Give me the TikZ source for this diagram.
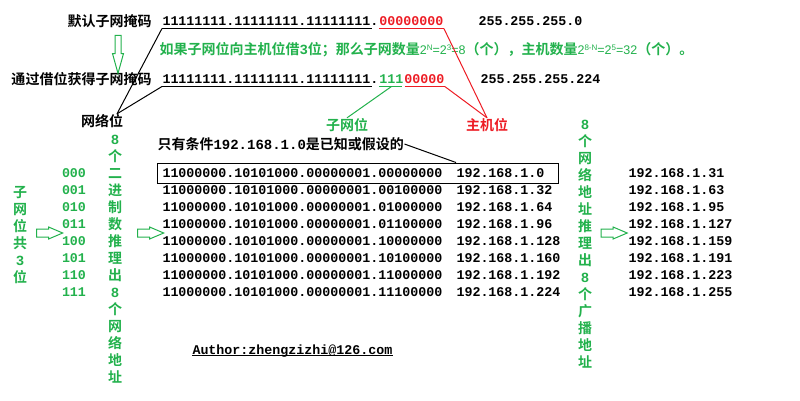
\documentclass[tikz,border=0pt]{standalone}
\usepackage{fontspec}
\newfontfamily\cjk{Noto Sans CJK SC}[UprightFont=* Bold]
\newfontfamily\mono{Liberation Mono}[UprightFont=* Bold]
\newfontfamily\lsans{Liberation Sans}
\usetikzlibrary{shapes.arrows, fit}
\definecolor{paintgreen}{HTML}{22B14C}
\definecolor{paintred}{HTML}{ED1C24}
\newcommand{\pw}[1]{\raisebox{4.5pt}{\fontsize{8}{8}\selectfont #1}}
\newcommand{\lat}[1]{{\lsans\fontsize{12.5}{15}\selectfont #1}}
\tikzset{
  cn/.style={inner sep=0, font=\cjk\fontsize{14}{17}\selectfont},
  bits/.style={inner xsep=0, inner ysep=2.6pt, font=\mono\fontsize{13.33}{17}\selectfont},
  col/.style={inner sep=0, align=center, text=paintgreen, font=\cjk\fontsize{14}{17}\selectfont},
  hollow/.style={single arrow, draw=paintgreen, inner xsep=0, inner ysep=3.5pt,
    single arrow head extend=2pt, single arrow tip angle=46, minimum height=26pt},
}
\begin{document}
\begin{tikzpicture}[x=1pt, y=-1pt, line width=1pt]
  \useasboundingbox (0,0) rectangle (800,400);

  % default mask
  \node[cn, anchor=east] (defname) at (152,21) {默认子网掩码};
  \node[bits, anchor=west] (defnet) at (162,21) {11111111.11111111.11111111.};
  \node[bits, anchor=west, text=paintred] (defhost) at (defnet.east) {00000000};
  \node[bits, anchor=west] (defdec) at (478,21) {255.255.255.0};
  \draw (defnet.south west) -- ([xshift=-7pt]defnet.south east);
  \draw[paintred] (defhost.south west) -- (defhost.south east);

  \node[cn, anchor=west, text=paintgreen] (rule) at (159,50)
    {如果子网位向主机位借{\mono 3}位；那么子网数量\lat{2\pw{N}=2\pw{3}=8}（个），主机数量\lat{2\pw{8-N}=2\pw{5}=32}（个）。};

  % borrowed mask
  \node[cn, anchor=east] (subname) at (152,79) {通过借位获得子网掩码};
  \node[bits, anchor=west] (subnet) at (162,79) {11111111.11111111.11111111.};
  \node[bits, anchor=west, text=paintgreen] (subbits) at (subnet.east) {111};
  \node[bits, anchor=west, text=paintred] (subhost) at (subbits.east) {00000};
  \node[bits, anchor=west] (subdec) at (480,79) {255.255.255.224};
  \draw (subnet.south west) -- ([xshift=-7pt]subnet.south east);
  \draw[paintgreen] (subbits.south west) -- ([xshift=-2pt]subbits.south east);
  \draw[paintred] ([xshift=1pt]subhost.south west) -- (subhost.south east);

  \node[hollow, rotate=-90, minimum height=38pt, inner ysep=2.5pt,
    single arrow head extend=2.5pt, single arrow tip angle=31] (down) at (118,49) {};

  % labels
  \node[cn] (netlbl) at (102,121) {网络位};
  \node[cn, text=paintgreen] (sublbl) at (347,125) {子网位};
  \node[cn, text=paintred] (hostlbl) at (487,125) {主机位};

  \draw (defnet.south west) -- ([xshift=15pt]netlbl.north);
  \draw (subnet.south west) -- ([xshift=15pt]netlbl.north);
  \draw[paintgreen] (subbits.south) -- (sublbl.north);
  \draw[paintred] (defhost.south east) -- (hostlbl.north);
  \draw[paintred] (subhost.south east) -- (hostlbl.north);

  % the eight subnets
  \node[cn, anchor=west] (cond) at (157,144) {只有条件{\mono 192.168.1.0}是已知或假设的};
  \foreach \hbits/\ipend [count=\i] in {00000000/0, 00100000/32, 01000000/64, 01100000/96,
      10000000/128, 10100000/160, 11000000/192, 11100000/224} {
    \node[bits, anchor=west] (bin\i) at (162,156+17*\i) {11000000.10101000.00000001.\hbits};
    \node[bits, anchor=west] (ip\i) at (456,156+17*\i) {192.168.1.\ipend};
  }
  \node[draw, inner sep=0, fit={(157,163) (558,183)}] (known) {};
  \draw (cond.east) -- (known.north -| ip1.west);

  \foreach \bc [count=\i] in {31,63,95,127,159,191,223,255}
    \node[bits, anchor=west] (bc\i) at (628,156+17*\i) {192.168.1.\bc};

  % green columns
  \node[col] (subcnt) at (20,235) {子\\网\\位\\共\\{\mono 3}\\位};
  \node[bits, align=center, text=paintgreen] (combos) at (74,232.5)
    {000\\001\\010\\011\\100\\101\\110\\111};
  \node[col] (netcnt) at (115,259.5)
    {{\mono 8}\\个\\二\\进\\制\\数\\推\\理\\出\\{\mono 8}\\个\\网\\络\\地\\址};
  \node[col] (bccnt) at (585,244)
    {{\mono 8}\\个\\网\\络\\地\\址\\推\\理\\出\\{\mono 8}\\个\\广\\播\\地\\址};

  \node[hollow] (tocombos) at (45,233) {};
  \node[hollow] (tonets) at (146,233) {};
  \node[hollow] (tobcs) at (609.5,233) {};

  \node[bits, anchor=west] (author) at (192,351) {Author:zhengzizhi@126.com};
  \draw ([yshift=-1.5pt]author.base west) -- ([yshift=-1.5pt]author.base east);
\end{tikzpicture}
\end{document}
